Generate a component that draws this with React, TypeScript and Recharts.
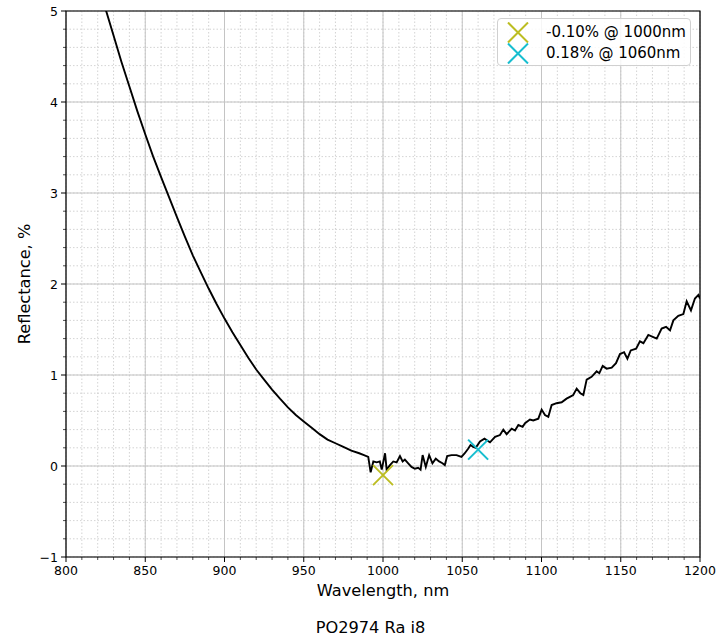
import React from 'react';
import { ComposedChart, Line, Scatter, XAxis, YAxis, CartesianGrid, ReferenceArea, Label } from 'recharts';

const wavelengths = [
  815, 820, 825, 830, 835, 840, 845, 850, 855, 860, 865, 870, 875, 880, 885, 890, 895, 900,
  905, 910, 915, 920, 925, 930, 935, 940, 945, 950, 955, 960, 965, 970, 975, 980, 985, 988,
  990.7, 992.2, 993.9, 996, 998, 999.2, 1001.3, 1002.3, 1004.4, 1006.5, 1008.6, 1010.7, 1012.4,
  1013.8, 1015.9, 1018, 1020.1, 1022.2, 1023.7, 1025, 1027, 1029.1, 1031.2, 1033.3, 1035.4,
  1037.5, 1039, 1040.5, 1043.2, 1046.4, 1049.5, 1051.6, 1053.7, 1055.2, 1056.9, 1058.5, 1061.2,
  1064, 1067.5, 1070.7, 1073.8, 1075.9, 1078, 1081.2, 1083.3, 1085.4, 1088.1, 1089.6, 1092.7,
  1094.8, 1098, 1100.1, 1102.2, 1104.3, 1106.4, 1109.5, 1112.7, 1115.8, 1117.9, 1120, 1122.2,
  1124.5, 1126.4, 1128.5, 1131.6, 1134.8, 1136.5, 1138.6, 1141.1, 1144.3, 1147, 1149.5, 1152.1,
  1154.2, 1156.3, 1159.7, 1162.1, 1164.3, 1167.4, 1170.2, 1172.7, 1175.8, 1178.6, 1181.1, 1183.2,
  1186.3, 1189.5, 1191.6, 1194.3, 1196.8, 1199, 1200,
];

const reflectance = [
  5.62, 5.32, 5.02, 4.73, 4.44, 4.17, 3.9, 3.645, 3.4, 3.175, 2.955, 2.735, 2.52, 2.315, 2.13, 1.95, 1.78, 1.62,
  1.47, 1.33, 1.19, 1.06, 0.95, 0.84, 0.74, 0.645, 0.56, 0.49, 0.42, 0.35, 0.29, 0.25, 0.21, 0.17, 0.14, 0.12,
  0.1, -0.07, 0.05, 0.04, 0.05, -0.04, 0.14, -0.04, 0.01, 0.05, 0.04, 0.11, 0.05,
  0.07, 0.03, -0.01, -0.03, -0.02, -0.04, 0.12, -0.01, 0.12, 0.03, 0.08, 0.05,
  0.03, 0.01, 0.11, 0.12, 0.12, 0.1, 0.14, 0.19, 0.23, 0.21, 0.2, 0.27,
  0.3, 0.26, 0.32, 0.34, 0.4, 0.35, 0.41, 0.39, 0.45, 0.43, 0.47, 0.51,
  0.5, 0.52, 0.62, 0.56, 0.54, 0.67, 0.69, 0.7, 0.74, 0.76, 0.78, 0.85,
  0.8, 0.78, 0.95, 0.98, 1.04, 1.02, 1.1, 1.07, 1.08, 1.13, 1.23, 1.25,
  1.18, 1.27, 1.29, 1.37, 1.35, 1.44, 1.42, 1.4, 1.51, 1.53, 1.49, 1.6,
  1.65, 1.67, 1.81, 1.71, 1.84, 1.88, 1.84,
];

const markerWavelengths = [1000, 1060];
const markerValues = [-0.1, 0.18];
const markerLabels = ['-0.10% @ 1000nm', '0.18% @ 1060nm'];
const markerColors = ['#bcbd22', '#17becf'];

const xMajorTicks = [800, 850, 900, 950, 1000, 1050, 1100, 1150, 1200];
const xMinorTicks: number[] = [];
for (let v = 800; v <= 1200; v += 10) xMinorTicks.push(v);
const yMajorTicks = [-1, 0, 1, 2, 3, 4, 5];
const yMinorTicks = [
  -1, -0.8, -0.6, -0.4, -0.2, 0, 0.2, 0.4, 0.6, 0.8, 1, 1.2, 1.4, 1.6, 1.8, 2, 2.2, 2.4, 2.6, 2.8,
  3, 3.2, 3.4, 3.6, 3.8, 4, 4.2, 4.4, 4.6, 4.8, 5,
];

const xLabel = 'Wavelength, nm';
const yLabel = 'Reflectance, %';
const title = 'PO2974 Ra i8';

const FONT = '"DejaVu Sans", sans-serif';

const data = wavelengths.map((wl, i) => ({ wl, r: reflectance[i] }));
const markerData = markerWavelengths.map((wl, i) => [{ wl, r: markerValues[i] }]);

const isMajor = (v: number, step: number) => Math.abs(v / step - Math.round(v / step)) < 1e-6;

const XTick = (props: any) => {
  const { x, y, payload } = props;
  const v = payload.value;
  const major = isMajor(v, 50);
  return (
    <g>
      <line x1={x} x2={x} y1={y} y2={y + (major ? 5 : 3)} stroke="#000" strokeWidth={major ? 1 : 0.7} />
      {major && (
        <text x={x} y={y + 18} textAnchor="middle" fontSize={12.5} fontFamily={FONT} fill="#000">
          {v}
        </text>
      )}
    </g>
  );
};

const YTick = (props: any) => {
  const { x, y, payload } = props;
  const v = payload.value;
  const major = isMajor(v, 1);
  return (
    <g>
      <line x1={x - (major ? 5 : 3)} x2={x} y1={y} y2={y} stroke="#000" strokeWidth={major ? 1 : 0.7} />
      {major && (
        <text x={x - 8} y={y + 4.5} textAnchor="end" fontSize={12.5} fontFamily={FONT} fill="#000">
          {v < 0 ? '\u2212' + Math.abs(v) : String(Math.round(v))}
        </text>
      )}
    </g>
  );
};

const XMark = (props: any) => {
  const { cx, cy, fill } = props;
  const s = 10;
  return (
    <g>
      <line x1={cx - s} y1={cy - s} x2={cx + s} y2={cy + s} stroke={fill} strokeWidth={2} />
      <line x1={cx - s} y1={cy + s} x2={cx + s} y2={cy - s} stroke={fill} strokeWidth={2} />
    </g>
  );
};

export default function App() {
  return (
    <div style={{ position: 'absolute', left: 0, top: 0, width: 719, height: 639, background: '#fff' }}>
      <ComposedChart
        width={719}
        height={639}
        data={data}
        margin={{ top: 11, right: 19, left: 16, bottom: 39 }}
      >
        <CartesianGrid
          stroke="#c8c8c8"
          strokeWidth={0.8}
          strokeDasharray="1.5 2"
          verticalValues={xMinorTicks}
          horizontalValues={yMinorTicks}
        />
        <CartesianGrid
          stroke="#c4c4c4"
          strokeWidth={1}
          verticalValues={xMajorTicks}
          horizontalValues={yMajorTicks}
        />
        <XAxis
          dataKey="wl"
          type="number"
          domain={[800, 1200]}
          allowDataOverflow
          ticks={xMinorTicks}
          interval={0}
          tickSize={0}
          tickMargin={0}
          tickLine={false}
          axisLine={false}
          tick={<XTick />}
          height={43}
        >
          <Label
            content={(p: any) => {
              const vb = p.viewBox;
              return (
                <g>
                  <text x={vb.x + vb.width / 2} y={vb.y + 39} textAnchor="middle" fontSize={16.2} fontFamily={FONT} fill="#000">
                    {xLabel}
                  </text>
                  <text x={370.5} y={vb.y + 76} textAnchor="middle" fontSize={16.2} fontFamily={FONT} fill="#000">
                    {title}
                  </text>
                </g>
              );
            }}
          />
        </XAxis>
        <YAxis
          type="number"
          domain={[-1, 5]}
          allowDataOverflow
          ticks={yMinorTicks}
          interval={0}
          tickSize={0}
          tickMargin={0}
          tickLine={false}
          axisLine={false}
          tick={<YTick />}
          width={50}
        >
          <Label
            content={(p: any) => {
              const vb = p.viewBox;
              const cx = 24;
              const cy = vb.y + vb.height / 2;
              return (
                <text
                  x={cx}
                  y={cy}
                  textAnchor="middle"
                  dominantBaseline="central"
                  transform={`rotate(-90 ${cx} ${cy})`}
                  fontSize={16.2}
                  fontFamily={FONT}
                  fill="#000"
                >
                  {yLabel}
                </text>
              );
            }}
          />
        </YAxis>
        <ReferenceArea x1={800} x2={1200} y1={-1} y2={5} fill="none" stroke="#000" strokeWidth={1.2} />
        <Line
          type="linear"
          dataKey="r"
          stroke="#000"
          strokeWidth={1.9}
          dot={false}
          isAnimationActive={false}
        />
        {markerData.map((d, i) => (
          <Scatter
            key={i}
            data={d}
            dataKey="r"
            fill={markerColors[i]}
            shape={<XMark />}
            isAnimationActive={false}
          />
        ))}
      </ComposedChart>
      <div
        style={{
          position: 'absolute',
          left: 497,
          top: 18,
          width: 194,
          height: 48,
          boxSizing: 'border-box',
          border: '1px solid #d0d0d0',
          borderRadius: 4,
          background: 'rgba(255,255,255,0.85)',
          fontFamily: FONT,
          fontSize: 15,
          color: '#000',
        }}
      >
        {markerLabels.map((lab, i) => (
          <div key={i} style={{ position: 'absolute', left: 8, top: 3 + i * 21, height: 21, display: 'flex', alignItems: 'center' }}>
            <svg width={24} height={21} style={{ display: 'block' }}>
              <line x1={2} y1={0.5} x2={22} y2={20.5} stroke={markerColors[i]} strokeWidth={2} />
              <line x1={2} y1={20.5} x2={22} y2={0.5} stroke={markerColors[i]} strokeWidth={2} />
            </svg>
            <span style={{ marginLeft: 16, whiteSpace: 'nowrap', lineHeight: '21px' }}>{lab}</span>
          </div>
        ))}
      </div>
    </div>
  );
}
